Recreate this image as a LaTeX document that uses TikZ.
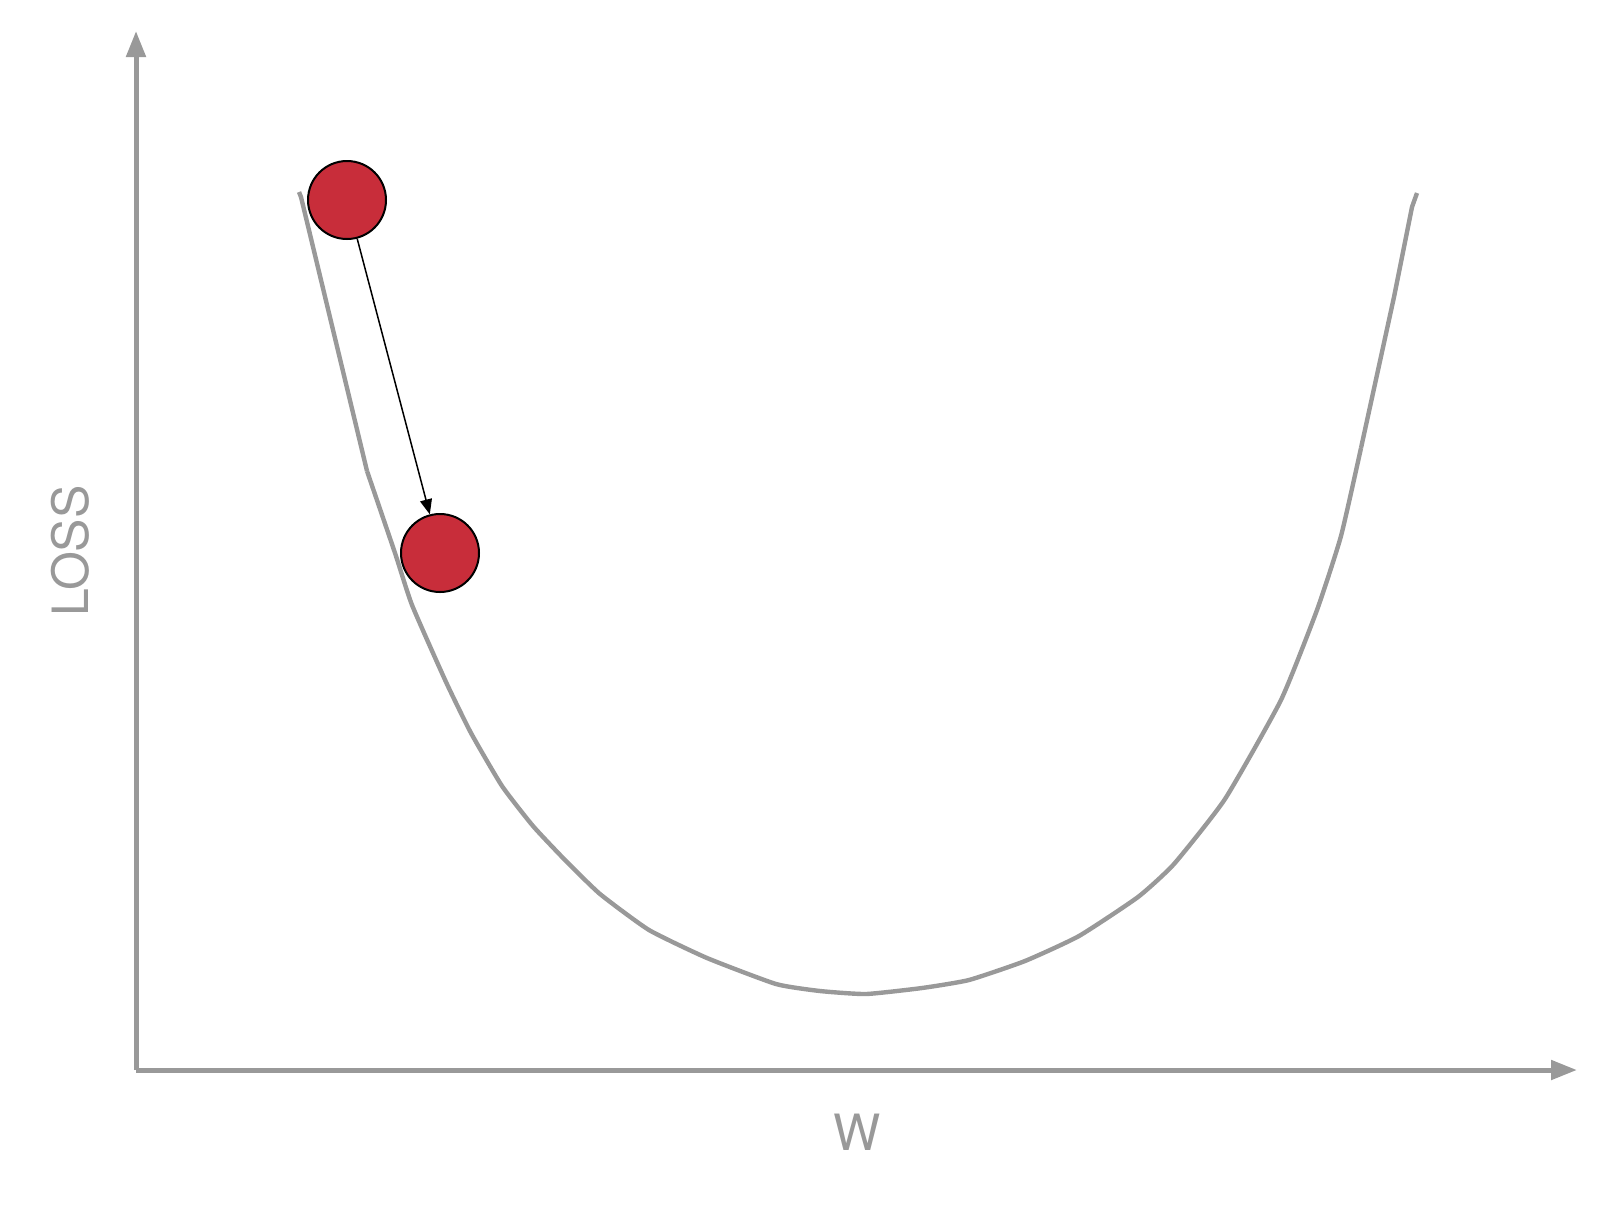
\documentclass[tikz,border=0pt]{standalone}
\usepackage{fontspec}
\setmainfont{TeX Gyre Heros}
\usepackage{tikz}
\usetikzlibrary{arrows.meta}
\definecolor{axisgray}{RGB}{153,153,153}
\definecolor{ballred}{RGB}{200,45,58}
\tikzset{
  axis/.style  ={draw=axisgray, line width=2.5pt,
                 -{Triangle[length=13pt, width=9.5pt]}},
  lossc/.style ={draw=axisgray, line width=2.2pt, line join=round},
  ball/.style  ={circle, draw=black, line width=1pt, fill=ballred,
                 minimum size=39pt, inner sep=0pt},
  lbl/.style   ={text=axisgray, font=\fontsize{25}{25}\selectfont},
  arr/.style   ={-{Stealth[length=7.5pt, width=6pt, inset=0pt]}, line width=0.75pt}
}
\begin{document}
\begin{tikzpicture}[x=0.5pt, y=-0.5pt]
    \useasboundingbox (0,0) rectangle (1607,1217);
    % axes
    \coordinate (o) at (136,1070);
    \coordinate (ytop) at (136,31);
    \coordinate (xend) at (1577,1070);
    \draw[axis] (o) -- (ytop);
    \draw[axis] (o) -- (xend);
    \node[lbl, rotate=90] (loss) at (70,551) {LOSS};
    \node[lbl] (w) at (857,1132) {W};
    % loss curve
    \draw[lossc] (299,192) -- (301,197) -- (367,471);
    \draw[lossc] plot[smooth, tension=0.3] coordinates {(367,471) (395,553)
      (412,605) (446,682) (471,733) (502,786) (533,826) (565,860) (600,894)
      (649,930) (707,958) (776,984) (820,991) (866,994) (922,988) (969,980)
      (1025,961) (1079,936) (1138,897) (1174,864) (1225,799) (1281,700)
      (1317,610) (1341,536) (1361,448)};
    \draw[lossc] (1361,448) -- (1394,297) -- (1412,207) -- (1417,193);
    % steps
    \node[ball] (b1) at (347,200) {};
    \node[ball] (b2) at (440,553) {};
    \draw[arr] (b1) -- (b2);
\end{tikzpicture}
\end{document}
